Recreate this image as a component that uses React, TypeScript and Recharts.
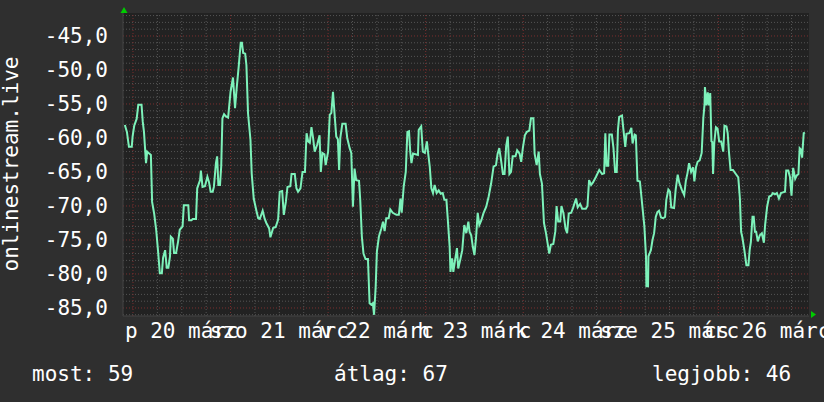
import React from "react";
import { LineChart, Line, XAxis, YAxis, CartesianGrid, ReferenceLine } from "recharts";

// hours since 20 márc 00:00, value
const day20: [number, number][] = [
  [-2.0, -58.1], [-1.5, -59.1], [-1.0, -61.3], [-0.3, -61.3], [-0.1, -59.8], [0.3, -58.2], [0.9, -57.2], [1.3, -55.1],
  [2.1, -55.1], [2.4, -57.6], [2.7, -59.1], [3.2, -63.7], [3.5, -62.0], [4.0, -62.3], [4.4, -62.5], [4.7, -69.4],
  [5.2, -71.1], [5.7, -73.5], [6.2, -76.9], [6.6, -79.9], [7.1, -79.9], [7.4, -77.6], [7.9, -76.5], [8.3, -79.1],
  [8.7, -79.1], [9.1, -77.4], [9.3, -74.5], [9.8, -74.8], [10.1, -76.9], [10.6, -76.9], [11.1, -75.2], [11.5, -73.5],
  [12.2, -73.0], [12.5, -69.9], [13.6, -69.9], [13.8, -72.1], [14.4, -72.1], [14.7, -71.9], [15.5, -71.9], [15.8, -67.4],
  [16.5, -66.2], [16.7, -64.8], [17.1, -67.2], [17.7, -67.1], [18.3, -65.7], [18.7, -66.5], [19.1, -67.9], [19.6, -67.9],
  [19.9, -67.2], [20.4, -63.7], [20.7, -62.7], [21.0, -66.9], [21.4, -66.9], [21.7, -64.2], [22.0, -57.1], [22.4, -56.5],
  [22.8, -56.8], [23.4, -57.0],
];
const day21: [number, number][] = [
  [24.0, -53.2], [24.6, -51.1], [25.1, -55.6], [25.5, -52.7], [26.0, -49.5], [26.5, -46.0], [26.8, -46.0], [27.1, -47.5],
  [27.6, -47.6], [27.9, -49.3], [28.3, -56.4], [28.9, -60.3], [29.2, -65.2], [29.7, -68.9], [30.4, -70.8], [30.8, -71.8],
  [31.2, -71.9], [31.9, -70.7], [32.4, -71.9], [32.8, -72.5], [33.5, -73.3], [33.8, -74.6], [34.5, -73.2], [35.1, -73.1],
  [35.7, -72.0], [36.1, -67.9], [36.7, -67.8], [37.1, -71.3], [37.6, -69.4], [38.0, -67.2], [38.7, -67.1], [39.0, -65.3],
  [39.8, -65.3], [40.2, -67.4], [40.6, -67.9], [41.2, -67.4], [41.7, -65.0], [42.3, -65.0], [42.7, -59.3], [43.1, -60.5],
  [43.5, -60.7], [43.9, -58.4], [44.3, -60.0], [44.7, -62.0], [45.3, -61.0], [45.9, -59.6], [46.2, -65.0], [46.6, -62.2],
  [47.1, -62.4], [47.4, -64.0], [48.0, -62.0],
];
const day22: [number, number][] = [
  [48.4, -56.6], [48.8, -56.3], [49.2, -53.2], [49.6, -56.6], [50.0, -59.8], [50.4, -60.2], [50.7, -64.7], [51.0, -60.0],
  [51.5, -57.9], [52.3, -57.9], [52.7, -60.0], [53.3, -61.5], [53.7, -62.2], [54.1, -70.1], [54.5, -64.5], [54.9, -66.2],
  [55.6, -66.3], [55.9, -69.1], [56.3, -74.5], [56.7, -77.0], [57.2, -77.8], [57.8, -77.8], [58.2, -84.3], [58.6, -84.5],
  [59.0, -84.3], [59.3, -86.0], [59.7, -81.9], [60.0, -76.7], [60.5, -74.5], [61.1, -73.3], [61.5, -72.3], [61.9, -73.7],
  [62.3, -71.8], [62.9, -71.8], [63.3, -70.5], [63.9, -71.0], [64.8, -71.3], [65.4, -71.3], [65.8, -68.9], [66.1, -71.0],
  [66.6, -67.1], [67.1, -65.0], [67.5, -59.1], [67.9, -59.0], [68.2, -62.0], [68.5, -63.7], [68.9, -62.3], [69.5, -62.4],
  [70.1, -62.5], [70.3, -58.8], [70.9, -58.3], [71.3, -62.0], [71.8, -62.2],
];
const day23: [number, number][] = [
  [72.3, -60.5], [72.6, -62.2], [73.0, -64.2], [73.4, -67.4], [73.8, -68.1], [74.2, -66.9], [74.7, -68.1], [75.2, -67.7],
  [75.7, -68.2], [76.2, -68.1], [76.6, -69.1], [77.1, -69.1], [77.4, -71.6], [77.9, -76.0], [78.1, -79.7], [78.5, -77.7],
  [78.8, -79.7], [79.3, -77.7], [79.7, -76.2], [80.0, -79.2], [80.5, -77.9], [81.0, -76.5], [81.5, -72.8], [82.0, -74.0],
  [82.5, -72.3], [82.8, -73.8], [83.2, -74.3], [83.6, -76.0], [84.0, -77.2], [84.4, -74.6], [84.8, -71.0], [85.2, -72.8],
  [85.7, -72.1], [86.2, -71.1], [86.9, -70.1], [87.5, -68.6], [88.1, -66.7], [88.7, -64.2], [89.3, -64.0], [89.7, -62.3],
  [90.1, -61.5], [90.6, -63.5], [91.0, -65.3], [91.4, -65.3], [91.8, -61.2], [92.2, -59.8], [92.6, -65.3], [93.0, -65.0],
  [93.4, -62.7], [94.1, -62.7], [94.5, -61.8], [95.1, -62.3], [95.5, -63.5], [95.9, -61.5],
];
const day24: [number, number][] = [
  [96.4, -59.6], [96.9, -59.1], [97.5, -58.9], [97.9, -57.1], [98.5, -57.1], [98.8, -62.3], [99.3, -64.0], [99.8, -62.0],
  [100.1, -65.3], [100.6, -66.7], [101.1, -72.5], [101.6, -74.0], [102.0, -75.5], [102.4, -77.0], [102.8, -75.7], [103.4, -75.6],
  [103.9, -73.7], [104.2, -70.0], [104.6, -72.3], [105.1, -72.3], [105.4, -70.0], [105.9, -71.1], [106.4, -73.3], [106.8, -74.0],
  [107.2, -71.1], [107.8, -71.0], [108.3, -70.2], [109.0, -68.9], [109.4, -70.2], [110.0, -69.7], [110.5, -70.4], [111.4, -70.4],
  [111.8, -70.0], [112.2, -66.2], [112.7, -66.9], [113.2, -66.5], [113.9, -65.7], [114.7, -64.7], [115.4, -65.3], [115.9, -65.2],
  [116.2, -59.3], [116.5, -64.1], [116.9, -64.1], [117.2, -59.5], [117.8, -59.5], [118.2, -61.5], [118.6, -65.0], [119.0, -65.0],
  [119.3, -58.8], [119.6, -56.9],
];
const day25: [number, number][] = [
  [120.3, -56.7], [120.6, -58.5], [121.1, -61.3], [121.4, -59.4], [122.1, -59.3], [122.6, -58.5], [122.9, -60.8], [123.4, -59.5],
  [123.7, -59.6], [124.1, -66.3], [124.7, -66.4], [125.2, -69.4], [125.8, -73.0], [126.2, -77.4], [126.3, -81.8], [126.7, -81.8],
  [126.8, -77.4], [127.4, -76.5], [127.8, -75.0], [128.2, -74.0], [128.6, -71.6], [129.0, -70.9], [129.4, -70.7], [129.9, -71.7],
  [130.4, -71.8], [130.9, -71.6], [131.2, -69.1], [131.7, -67.6], [132.1, -67.9], [132.4, -70.2], [133.1, -70.3], [133.5, -67.6],
  [134.0, -65.4], [134.4, -66.6], [135.0, -67.6], [135.6, -68.4], [136.0, -66.3], [136.4, -65.2], [136.8, -63.7], [137.3, -65.0],
  [137.8, -64.3], [138.1, -66.4], [138.5, -64.3], [138.9, -63.5], [139.4, -63.3], [139.9, -62.2], [140.3, -57.1], [140.6, -55.1],
  [140.7, -52.5], [141.1, -55.2], [141.4, -53.3], [141.7, -55.2], [142.0, -53.4], [142.3, -60.5], [142.5, -60.6], [142.7, -65.3],
  [143.0, -60.7], [143.4, -58.4], [143.8, -58.6],
];
const day26: [number, number][] = [
  [144.2, -60.5], [144.7, -60.5], [145.2, -62.0], [145.5, -58.2], [146.0, -58.3], [146.3, -59.3], [146.6, -62.0], [147.0, -64.7],
  [147.6, -64.7], [148.3, -65.3], [148.9, -65.8], [149.3, -68.9], [149.6, -73.8], [149.9, -74.6], [150.4, -76.5], [150.9, -78.7],
  [151.4, -78.7], [151.7, -76.5], [152.0, -75.3], [152.4, -71.6], [152.7, -71.6], [153.0, -73.8], [153.3, -73.8], [153.7, -75.2],
  [154.2, -74.3], [154.7, -74.0], [155.2, -75.4], [155.5, -72.8], [156.0, -70.1], [156.5, -68.6], [157.0, -68.5], [157.4, -68.1],
  [157.9, -68.3], [158.4, -68.1], [158.9, -68.9], [159.4, -68.1], [159.9, -68.0], [160.4, -67.9], [160.7, -64.8], [161.2, -64.8],
  [161.6, -65.7], [162.0, -68.5], [162.4, -64.4], [162.9, -66.0], [163.3, -65.5], [163.7, -65.3], [164.0, -61.5], [164.3, -61.7],
  [164.6, -62.9], [165.0, -59.3], [165.3, -59.2],
];

const dayLabels = ["p 20 márc", "szo 21 márc", "v 22 márc", "h 23 márc", "k 24 márc", "sze 25 márc", "cs 26 márc"];
const labelHours = [12, 36, 60, 84, 108, 132, 156];
const majorX = [0, 24, 48, 72, 96, 120, 144];
const minorX = [6, 12, 18, 30, 36, 42, 54, 60, 66, 78, 84, 90, 102, 108, 114, 126, 132, 138, 150, 156, 162];
const yTicks = [-85, -80, -75, -70, -65, -60, -55, -50, -45];
const minorY = [
  -86, -84, -83, -82, -81, -79, -78, -77, -76, -74, -73, -72, -71, -69, -68, -67, -66, -64, -63, -62, -61,
  -59, -58, -57, -56, -54, -53, -52, -51, -49, -48, -47, -46, -44, -43, -42,
];
const stats = [
  { label: "most", value: 59 },
  { label: "átlag", value: 67 },
  { label: "legjobb", value: 46 },
];
const xDomain: [number, number] = [-2.46, 166.3];
const yDomain: [number, number] = [-86.18, -41.62];

const data = [...day20, ...day21, ...day22, ...day23, ...day24, ...day25, ...day26].map(([t, v]) => ({ t, v }));

const FONT = "'DejaVu Sans Mono', monospace";

export default function App() {
  const statX = [32, 334, 652];
  return (
    <div style={{ position: "absolute", left: 0, top: 0, width: 824, height: 402, background: "#2f2f2f" }}>
      <LineChart width={824} height={402} data={data} margin={{ top: 13, right: 15, bottom: 0, left: 0 }}>
        <CartesianGrid fill="#222222" horizontal={false} vertical={false} stroke="none" />
        {minorY.map((y) => (
          <ReferenceLine key={"my" + y} y={y} stroke="#555555" strokeDasharray="1 2" strokeWidth={1} />
        ))}
        {minorX.map((x) => (
          <ReferenceLine key={"mx" + x} x={x} stroke="#555555" strokeDasharray="1 2" strokeWidth={1} />
        ))}
        {yTicks.map((y) => (
          <ReferenceLine key={"My" + y} y={y} stroke="#7a2e2e" strokeDasharray="1 2" strokeWidth={1} />
        ))}
        {majorX.map((x) => (
          <ReferenceLine key={"Mx" + x} x={x} stroke="#7a2e2e" strokeDasharray="1 2" strokeWidth={1} />
        ))}
        <XAxis
          type="number"
          dataKey="t"
          domain={xDomain}
          allowDataOverflow
          ticks={labelHours}
          interval={0}
          tickFormatter={(h: number) => dayLabels[labelHours.indexOf(h)]}
          height={86}
          axisLine={{ stroke: "#444444" }}
          tickLine={false}
          tickSize={0}
          tickMargin={7}
          tick={{ fill: "#ffffff", fontSize: 21, fontFamily: FONT }}
        />
        <YAxis
          type="number"
          domain={yDomain}
          allowDataOverflow
          ticks={yTicks}
          interval={0}
          width={123}
          tickFormatter={(v: number) => v.toFixed(1).replace(".", ",")}
          axisLine={{ stroke: "#444444" }}
          tickLine={false}
          tickSize={0}
          tickMargin={15}
          tick={{ fill: "#ffffff", fontSize: 21, fontFamily: FONT }}
        />
        <Line
          type="linear"
          dataKey="v"
          stroke="#7df2ba"
          strokeWidth={2}
          dot={false}
          isAnimationActive={false}
        />
      </LineChart>
      <svg width={824} height={402} style={{ position: "absolute", left: 0, top: 0, pointerEvents: "none" }}>
        <text
          x={18}
          y={164}
          transform="rotate(-90 18 164)"
          textAnchor="middle"
          fill="#ffffff"
          fontSize={21}
          fontFamily={FONT}
        >
          onlinestream.live
        </text>
        <polygon points="120.5,13 127.5,13 124,7" fill="#00cc00" />
        <polygon points="811,311 811,318 816,314.5" fill="#00cc00" />
        {stats.map((s, i) => (
          <text key={s.label} x={statX[i]} y={381} fill="#ffffff" fontSize={21} fontFamily={FONT}>
            {s.label}: {s.value}
          </text>
        ))}
      </svg>
    </div>
  );
}
